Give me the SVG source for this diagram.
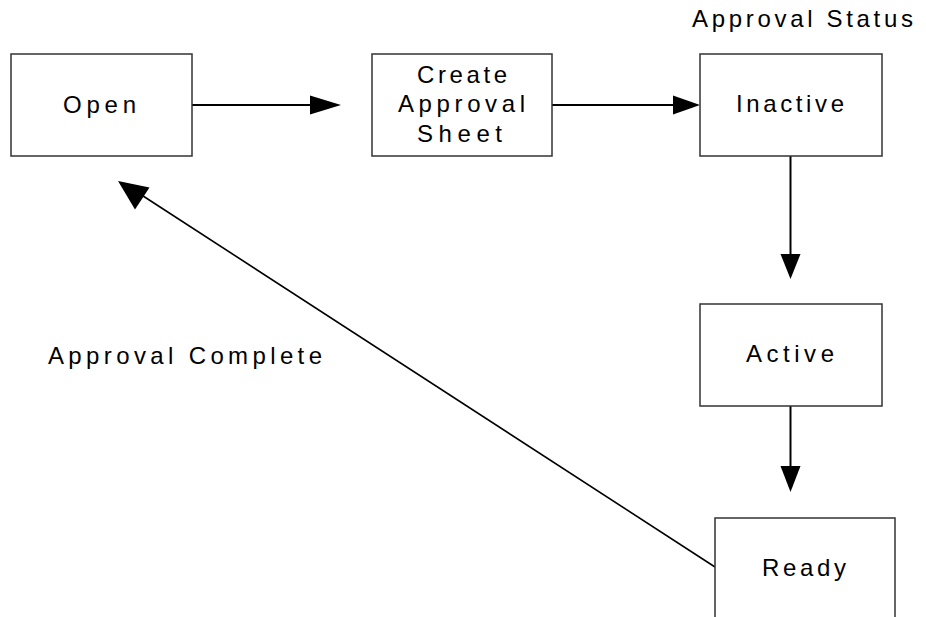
<svg xmlns="http://www.w3.org/2000/svg" width="926" height="617" viewBox="0 0 926 617">
<style>
.box{fill:#fff;stroke:#333;stroke-width:1.5}
.lbl{font-family:"Liberation Sans",Arial,sans-serif;font-size:24px;fill:#000}
.ln{stroke:#000;stroke-width:2;fill:none}
.hd{fill:#000}
</style>
<rect width="926" height="617" fill="#fff"/>
<g id="connectors">
<line class="ln" x1="192" y1="105" x2="312" y2="105"/>
<polygon class="hd" points="341,105 310,95.5 310,114.5"/>
<line class="ln" x1="552" y1="105" x2="675" y2="105"/>
<polygon class="hd" points="700,105 673,95.5 673,114.5"/>
<line class="ln" x1="790.5" y1="156" x2="790.5" y2="256"/>
<polygon class="hd" points="790.5,279 780.5,254 800.5,254"/>
<line class="ln" x1="790.5" y1="406" x2="790.5" y2="468"/>
<polygon class="hd" points="790.5,492 780.5,466 800.5,466"/>
<line class="ln" x1="715" y1="567" x2="140" y2="194" style="stroke-width:1.6"/>
<polygon class="hd" points="118,181 149.5,187.5 135,209.5"/>
</g>
<g id="open">
<rect class="box" x="11" y="54" width="181" height="102"/>
<text class="lbl" x="63" y="113" textLength="73" lengthAdjust="spacing">Open</text>
</g>
<g id="create">
<rect class="box" x="372" y="54" width="180" height="102"/>
<text class="lbl" x="417" y="83" textLength="90" lengthAdjust="spacing">Create</text>
<text class="lbl" x="398" y="112" textLength="127" lengthAdjust="spacing">Approval</text>
<text class="lbl" x="417" y="142" textLength="85" lengthAdjust="spacing">Sheet</text>
</g>
<g id="inactive">
<rect class="box" x="700" y="54" width="182" height="102"/>
<text class="lbl" x="736" y="112" textLength="108" lengthAdjust="spacing">Inactive</text>
</g>
<g id="active">
<rect class="box" x="700" y="304" width="182" height="102"/>
<text class="lbl" x="746" y="362" textLength="88" lengthAdjust="spacing">Active</text>
</g>
<g id="ready">
<rect class="box" x="715" y="518" width="180" height="120"/>
<text class="lbl" x="762" y="576" textLength="84" lengthAdjust="spacing">Ready</text>
</g>
<text class="lbl" x="48" y="364" textLength="274" lengthAdjust="spacing">Approval Complete</text>
<text class="lbl" x="692" y="27" textLength="221" lengthAdjust="spacing">Approval Status</text>
</svg>
